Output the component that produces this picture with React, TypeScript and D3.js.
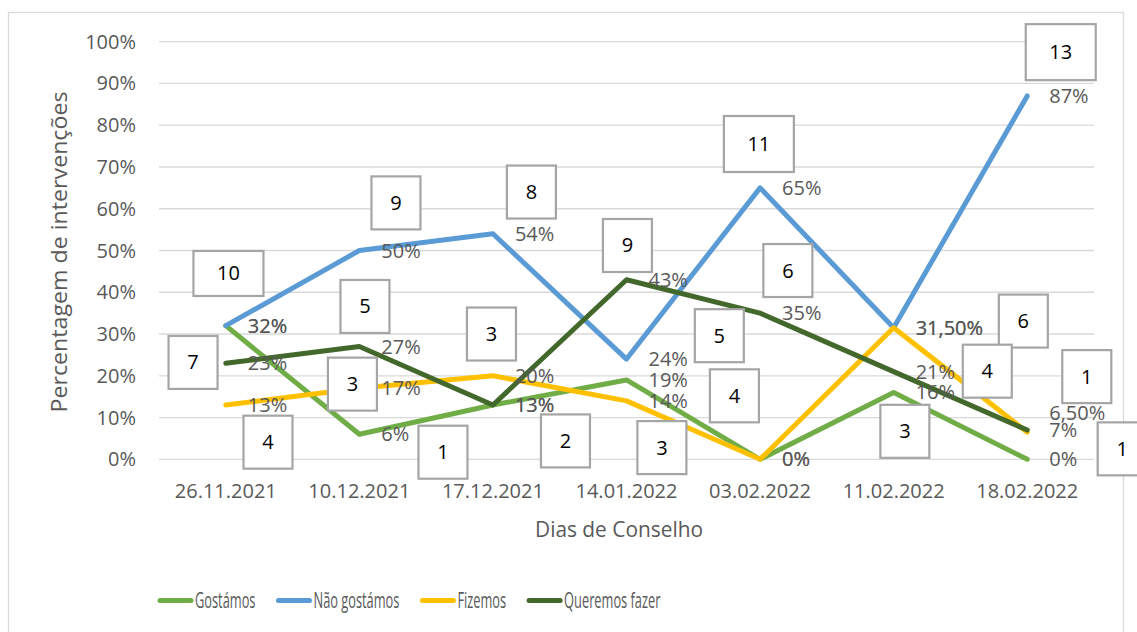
import { useEffect, useRef } from 'react';
import * as d3 from 'd3';

const DATES = ['26.11.2021', '10.12.2021', '17.12.2021', '14.01.2022', '03.02.2022', '11.02.2022', '18.02.2022'];

// percentage of interventions per council day
const GOSTAMOS = [32, 6, 13, 19, 0, 16, 0];
const NAO_GOSTAMOS = [32, 50, 54, 24, 65, 31.5, 87];
const FIZEMOS = [13, 17, 20, 14, 0, 31.5, 6.5];
const QUEREMOS_FAZER = [23, 27, 13, 43, 35, 21, 7];

const Y_TICKS = [0, 10, 20, 30, 40, 50, 60, 70, 80, 90, 100];

// count boxes: [text, category position (index), percentage position]
const COUNT_NOTES: [string, number, number][] = [
    ['10', 0.02, 44.5],
    ['7', -0.245, 23.2],
    ['4', 0.316, 4.1],
    ['9', 1.274, 61.4],
    ['5', 1.042, 36.6],
    ['3', 0.948, 18.0],
    ['1', 1.626, 1.7],
    ['8', 2.288, 64.0],
    ['3', 1.989, 30.0],
    ['2', 2.543, 4.4],
    ['9', 3.007, 51.2],
    ['5', 3.695, 29.6],
    ['4', 3.808, 15.2],
    ['3', 3.265, 2.8],
    ['11', 3.991, 75.5],
    ['6', 4.208, 45.2],
    ['6', 5.971, 33.1],
    ['4', 5.701, 21.1],
    ['3', 5.084, 6.7],
    ['13', 6.251, 97.5],
    ['1', 6.446, 19.8],
    ['1', 6.711, 2.5],
];

const SERIES = [
    { name: 'Gostámos', values: GOSTAMOS, color: '#70AD47' },
    { name: 'Não gostámos', values: NAO_GOSTAMOS, color: '#5B9BD5' },
    { name: 'Fizemos', values: FIZEMOS, color: '#FFC000' },
    { name: 'Queremos fazer', values: QUEREMOS_FAZER, color: '#43682B' },
];

const W = 1137;
const H = 632;
const PLOT = { left: 159, right: 1094, top: 41.7, bottom: 459.3 };
const FONT = '"Open Sans", "DejaVu Sans", sans-serif';
const TEXT = '#595959';

const fmtPct = (v: number) =>
    Number.isInteger(v) ? `${v}%` : `${v.toFixed(2).replace('.', ',')}%`;

export default function App() {
    const ref = useRef<SVGSVGElement>(null);

    useEffect(() => {
        if (!ref.current) return;
        const svg = d3.select(ref.current);
        svg.selectAll('*').remove();

        const x = d3.scalePoint<string>().domain(DATES).range([PLOT.left, PLOT.right]).padding(0.5);
        const xi = d3.scaleLinear().domain([0, DATES.length - 1])
            .range([x(DATES[0]) as number, x(DATES[DATES.length - 1]) as number]);
        const y = d3.scaleLinear().domain([0, 100]).range([PLOT.bottom, PLOT.top]);

        svg.append('rect').attr('width', W).attr('height', H).attr('fill', '#fff');
        svg.append('rect')
            .attr('x', 8.5).attr('y', 12.5).attr('width', 1115).attr('height', 700)
            .attr('fill', 'none').attr('stroke', '#D9D9D9').attr('stroke-width', 1.3);

        // grid + y ticks
        svg.append('g').selectAll('line').data(Y_TICKS).join('line')
            .attr('x1', PLOT.left).attr('x2', PLOT.right)
            .attr('y1', (d) => y(d)).attr('y2', (d) => y(d))
            .attr('stroke', '#D9D9D9').attr('stroke-width', 1.3);

        svg.append('g').selectAll('text').data(Y_TICKS).join('text')
            .attr('x', 136).attr('y', (d) => y(d)).attr('dy', '0.35em')
            .attr('text-anchor', 'end')
            .attr('font-family', FONT).attr('font-size', 20).attr('fill', TEXT)
            .text((d) => `${d}%`);

        svg.append('g').selectAll('text').data(DATES).join('text')
            .attr('x', (d) => x(d) as number).attr('y', 491).attr('dy', '0.35em')
            .attr('text-anchor', 'middle')
            .attr('font-family', FONT).attr('font-size', 20).attr('fill', TEXT)
            .text((d) => d);

        // axis titles
        svg.append('text')
            .attr('transform', 'translate(60,252) rotate(-90)')
            .attr('dy', '0.35em').attr('text-anchor', 'middle')
            .attr('font-family', FONT).attr('font-size', 21).attr('fill', TEXT)
            .attr('textLength', 321).attr('lengthAdjust', 'spacingAndGlyphs')
            .text('Percentagem de intervenções');

        svg.append('text')
            .attr('x', 619).attr('y', 530).attr('dy', '0.35em').attr('text-anchor', 'middle')
            .attr('font-family', FONT).attr('font-size', 21).attr('fill', TEXT)
            .attr('textLength', 168).attr('lengthAdjust', 'spacingAndGlyphs')
            .text('Dias de Conselho');

        // lines
        const line = d3.line<number>()
            .x((_, i) => x(DATES[i]) as number)
            .y((d) => y(d));

        SERIES.forEach((s) => {
            svg.append('path')
                .datum(s.values)
                .attr('fill', 'none')
                .attr('stroke', s.color)
                .attr('stroke-width', 5)
                .attr('stroke-linecap', 'round')
                .attr('stroke-linejoin', 'round')
                .attr('d', line);
        });

        // value labels
        SERIES.forEach((s) => {
            svg.append('g').selectAll('text').data(s.values).join('text')
                .attr('x', (_, i) => (x(DATES[i]) as number) + 22)
                .attr('y', (d, i) => y(d) + (s.name === 'Fizemos' && i === 6 ? -19 : 0))
                .attr('dy', '0.35em')
                .attr('font-family', FONT).attr('font-size', 20).attr('fill', TEXT)
                .text((d) => fmtPct(d));
        });

        // count boxes
        const notes = svg.append('g').selectAll('g').data(COUNT_NOTES).join('g')
            .attr('transform', (d) => `translate(${xi(d[1])},${y(d[2])})`);
        notes.append('rect')
            .attr('x', (d) => (d[0].length > 1 ? -35 : -24.5))
            .attr('y', (d) => (d[0] === '10' ? -22.5 : d[0].length > 1 ? -28 : -26.5))
            .attr('width', (d) => (d[0].length > 1 ? 70 : 49))
            .attr('height', (d) => (d[0] === '10' ? 45 : d[0].length > 1 ? 56 : 53))
            .attr('fill', '#fff').attr('stroke', '#A5A5A5').attr('stroke-width', 2.2);
        notes.append('text')
            .attr('dy', '0.35em').attr('text-anchor', 'middle')
            .attr('font-family', FONT).attr('font-size', 20).attr('fill', '#000')
            .text((d) => d[0]);

        // legend
        const lg = svg.append('g');
        let lx = 158;
        const ly = 600.5;
        SERIES.forEach((s) => {
            lg.append('line')
                .attr('x1', lx + 2).attr('x2', lx + 33).attr('y1', ly).attr('y2', ly)
                .attr('stroke', s.color).attr('stroke-width', 5).attr('stroke-linecap', 'round');
            const t = lg.append('text')
                .attr('x', lx + 37).attr('y', ly).attr('dy', '0.35em')
                .attr('font-family', FONT).attr('font-size', 21).attr('fill', TEXT)
                .text(s.name);
            const natural = (t.node() as SVGTextElement).getComputedTextLength();
            const w = natural * 0.61;
            t.attr('textLength', w).attr('lengthAdjust', 'spacingAndGlyphs');
            lx += 37 + w + 21;
        });
    }, []);

    return (
        <svg
            ref={ref}
            width={W}
            height={H}
            style={{ position: 'fixed', left: 0, top: 0, display: 'block' }}
        />
    );
}
